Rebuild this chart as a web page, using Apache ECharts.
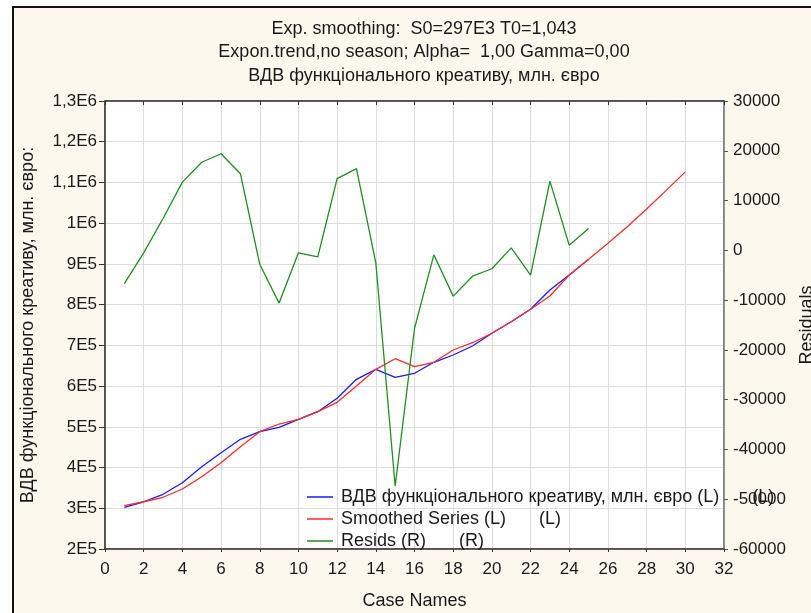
<!DOCTYPE html>
<html>
<head>
<meta charset="utf-8">
<script src="https://cdn.jsdelivr.net/npm/echarts@6/dist/echarts.min.js"></script>
<style>
  html, body { margin: 0; padding: 0; background: #ffffff; width: 811px; height: 613px; overflow: hidden; }
  #frame { position: absolute; left: 12px; top: 6px; width: 900px; height: 700px; border: 2px solid #111; background: #fdf8ed; }
  #chart { position: absolute; left: 0; top: 0; width: 811px; height: 613px; }
</style>
</head>
<body>
<div id="frame"></div>
<div id="chart"></div>
<script>
// ---- data ----
const titleLines = [
  'Exp. smoothing:  S0=297E3 T0=1,043',
  'Expon.trend,no season; Alpha=  1,00 Gamma=0,00',
  'ВДВ функціонального креативу, млн. євро'
];
const observedCases = [1,2,3,4,5,6,7,8,9,10,11,12,13,14,15,16,17,18,19,20,21,22,23,24,25];
const observedValues = [302400,316000,334300,362800,402000,436400,469300,488000,498800,518400,
  537100,570000,616600,641200,621600,631400,658400,676300,698400,729600,758100,788500,835900,872700,911300];
const smoothedCases = [1,2,3,4,5,6,7,8,9,10,11,12,13,14,15,16,17,18,19,20,21,22,23,24,25,26,27,28,29,30];
const smoothedValues = [306300,316000,327000,347300,377500,411900,451200,488000,506900,518400,
  537100,560200,600200,641200,667200,647600,658400,688600,706500,729600,758100,788500,821200,872700,911300,
  950500,991000,1035000,1080000,1126000];
const residCases = observedCases;
const residValues = [-6700,-500,6400,13700,17700,19400,15400,-2800,-10600,-500,
  -1300,14400,16400,-2500,-47400,-15700,-900,-9200,-5200,-3700,500,-5000,13900,1000,4400];
const leftTickValues = [200000,300000,400000,500000,600000,700000,800000,900000,1000000,1100000,1200000,1300000];
const leftTickLabels = ['2E5','3E5','4E5','5E5','6E5','7E5','8E5','9E5','1E6','1,1E6','1,2E6','1,3E6'];
const seriesNames = ['ВДВ функціонального креативу, млн. євро (L)', 'Smoothed Series (L)', 'Resids (R)'];
const legendSuffix = ['(L)', '(L)', '(R)'];
const leftAxisName = 'ВДВ функціонального креативу, млн. євро:';
const rightAxisName = 'Residuals';
const xAxisName = 'Case Names';

const zip = (xs, ys) => xs.map((x, i) => [x, ys[i]]);
const FONT = '"Liberation Sans", Arial, sans-serif';
const TXT = '#1a1a1a';

const chart = echarts.init(document.getElementById('chart'), null, { renderer: 'canvas' });
chart.setOption({
  backgroundColor: 'transparent',
  animation: false,
  title: {
    text: titleLines.join('\n'),
    left: 419,
    top: 12,
    textAlign: 'center',
    textStyle: { fontFamily: FONT, fontSize: 18, fontWeight: 'normal', color: TXT, lineHeight: 23.5, align: 'center' }
  },
  grid: {
    left: 105, right: 87, top: 101, height: 448,
    outerBoundsMode: 'none', containLabel: false,
    show: true, backgroundColor: '#ffffff', borderColor: '#666', borderWidth: 1
  },
  legend: {
    orient: 'vertical',
    left: 302, top: 483,
    itemWidth: 26, itemHeight: 1.5, itemGap: 4,
    icon: 'rect',
    data: seriesNames,
    formatter: name => name + '{g|}' + legendSuffix[seriesNames.indexOf(name)],
    textStyle: {
      fontFamily: FONT, fontSize: 18, color: TXT, lineHeight: 18, padding: [0, 0, 0, 3],
      rich: { g: { width: 33 } }
    }
  },
  xAxis: [{
    type: 'value', min: 0, max: 32, interval: 2,
    name: xAxisName, nameLocation: 'middle', nameGap: 43,
    nameTextStyle: { fontFamily: FONT, fontSize: 18, color: TXT },
    axisLine: { show: true, onZero: false, lineStyle: { color: '#333', width: 1.5 } },
    axisTick: { show: true, length: 3, lineStyle: { color: '#333' } },
    axisLabel: { fontFamily: FONT, fontSize: 17, color: TXT, margin: 12 },
    splitLine: { show: true, lineStyle: { color: '#dcdcdc', width: 1 } }
  }, {
    type: 'value', min: 0, max: 32, interval: 2, position: 'top',
    axisLine: { show: true, onZero: false, lineStyle: { color: '#333', width: 1.5 } },
    axisTick: { show: true, inside: true, length: 4, lineStyle: { color: '#333' } },
    axisLabel: { show: false },
    splitLine: { show: false }
  }],
  yAxis: [{
    type: 'value', min: 200000, max: 1300000, interval: 100000, position: 'left',
    name: leftAxisName, nameLocation: 'middle', nameGap: 68, nameRotate: 90,
    nameTextStyle: { fontFamily: FONT, fontSize: 18, color: TXT },
    axisLine: { show: true, onZero: false, lineStyle: { color: '#333', width: 1.5 } },
    axisTick: { show: true, length: 6, lineStyle: { color: '#333' } },
    axisLabel: {
      fontFamily: FONT, fontSize: 17, color: TXT, margin: 8,
      formatter: v => { const i = leftTickValues.indexOf(v); return i >= 0 ? leftTickLabels[i] : ''; }
    },
    splitLine: { show: true, lineStyle: { color: '#dcdcdc', width: 1 } }
  }, {
    type: 'value', min: -60000, max: 30000, interval: 10000, position: 'right',
    name: rightAxisName, nameLocation: 'middle', nameGap: 74, nameRotate: 90,
    nameTextStyle: { fontFamily: FONT, fontSize: 18, color: TXT },
    axisLine: { show: true, onZero: false, lineStyle: { color: '#777', width: 1.5 } },
    axisTick: { show: true, length: 4, lineStyle: { color: '#555' } },
    axisLabel: { fontFamily: FONT, fontSize: 17, color: TXT, margin: 9, formatter: v => String(v) },
    splitLine: { show: false }
  }],
  series: [{
    name: seriesNames[0], type: 'line', xAxisIndex: 0, yAxisIndex: 0,
    data: zip(observedCases, observedValues), symbol: 'none',
    lineStyle: { color: '#1a1aff', width: 1.3 }, itemStyle: { color: '#1a1aff' }
  }, {
    name: seriesNames[1], type: 'line', xAxisIndex: 0, yAxisIndex: 0,
    data: zip(smoothedCases, smoothedValues), symbol: 'none',
    lineStyle: { color: '#ff2a2a', width: 1.3 }, itemStyle: { color: '#ff2a2a' }
  }, {
    name: seriesNames[2], type: 'line', xAxisIndex: 0, yAxisIndex: 1,
    data: zip(residCases, residValues), symbol: 'none',
    lineStyle: { color: '#1f8f1f', width: 1.3 }, itemStyle: { color: '#1f8f1f' }
  }]
});
</script>
</body>
</html>
